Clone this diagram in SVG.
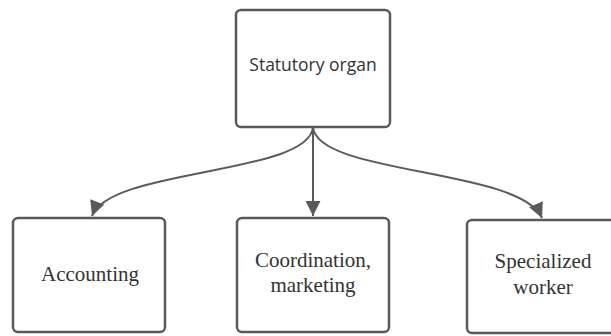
<svg xmlns="http://www.w3.org/2000/svg" width="611" height="336" viewBox="0 0 611 336">
<defs>
<style>
.box{fill:#fff;stroke:#5a5a5a;stroke-width:2.5}
.edge{fill:none;stroke:#5a5a5a;stroke-width:2}
.ts{font-family:"Open Sans","Noto Sans",sans-serif;font-size:17.5px;fill:#333;text-anchor:middle}
.tr{font-family:"Liberation Serif",serif;font-size:21px;fill:#333;text-anchor:middle}
</style>
<marker id="ah" viewBox="0 0 12 12" refX="12" refY="6" markerWidth="16" markerHeight="15" markerUnits="userSpaceOnUse" orient="auto">
<path d="M0,0 L12,6 L0,12 z" fill="#5a5a5a"/>
</marker>
</defs>
<rect width="611" height="336" fill="#fff"/>
<g id="connectors">
<path class="edge" d="M313,127 C309,175 110,168 92,216" marker-end="url(#ah)"/>
<path class="edge" d="M313,127 L313,216" marker-end="url(#ah)"/>
<path class="edge" d="M313,127 C317,175 520,168 542,218" marker-end="url(#ah)"/>
</g>
<g id="statutory">
<rect class="box" x="236" y="10" width="154" height="117" rx="5"/>
<text class="ts" x="313" y="71">Statutory organ</text>
</g>
<g id="accounting">
<rect class="box" x="13" y="218" width="152" height="114" rx="5"/>
<text class="tr" x="90" y="281">Accounting</text>
</g>
<g id="coordination">
<rect class="box" x="237" y="218" width="152" height="114" rx="5"/>
<text class="tr" x="313" y="267">Coordination,</text>
<text class="tr" x="313" y="292">marketing</text>
</g>
<g id="specialized">
<rect class="box" x="467" y="220" width="160" height="113" rx="5"/>
<text class="tr" x="543" y="268">Specialized</text>
<text class="tr" x="543" y="294">worker</text>
</g>
</svg>
